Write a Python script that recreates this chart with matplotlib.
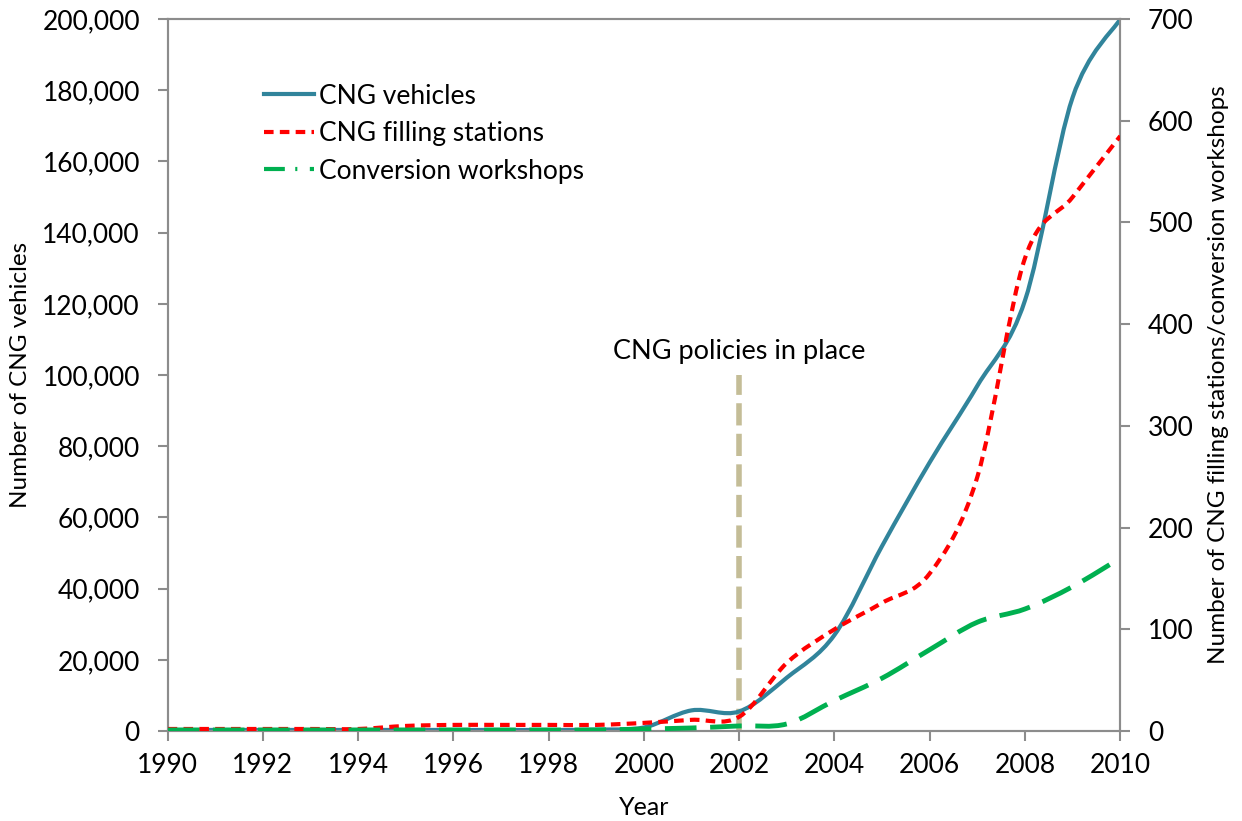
import numpy as np
import matplotlib.pyplot as plt
from matplotlib.path import Path
from matplotlib.patches import PathPatch
from matplotlib.lines import Line2D

plt.rcParams['font.family'] = ['Lato', 'DejaVu Sans']

years = list(range(1990, 2011))
vehicles = [300, 300, 300, 300, 300, 300, 300, 300, 300, 400, 1000, 5800, 5500,
            15000, 27000, 52000, 75500, 97000, 121000, 178000, 200000]
stations = [2, 2, 2, 2, 2, 5, 6, 6, 6, 6, 8, 11, 14,
            67, 100, 126, 155, 250, 465, 525, 585]
workshops = [1, 1, 1, 1, 1, 1, 1, 1, 1, 1, 2, 3, 5,
             7, 30, 52, 80, 107, 120, 142, 170]

policy_year = 2002
x_ticks = list(range(1990, 2011, 2))

BLUE = '#31849B'
RED = '#FF0000'
GREEN = '#00B050'
TAN = '#C4BD97'
GREY = '#8C8C8C'


def smooth_path(x, y):
    # Catmull-Rom style bezier through the points (like Excel's smoothed line)
    x = np.asarray(x, float)
    y = np.asarray(y, float)
    verts = [(x[0], y[0])]
    codes = [Path.MOVETO]
    n = len(x)
    for i in range(n - 1):
        p0 = (x[max(i - 1, 0)], y[max(i - 1, 0)])
        p1 = (x[i], y[i])
        p2 = (x[i + 1], y[i + 1])
        p3 = (x[min(i + 2, n - 1)], y[min(i + 2, n - 1)])
        c1 = (p1[0] + (p2[0] - p0[0]) / 6, p1[1] + (p2[1] - p0[1]) / 6)
        c2 = (p2[0] - (p3[0] - p1[0]) / 6, p2[1] - (p3[1] - p1[1]) / 6)
        verts += [c1, c2, p2]
        codes += [Path.CURVE4] * 3
    return Path(verts, codes)


def draw_smooth(ax, x, y, **kw):
    patch = PathPatch(smooth_path(x, y), facecolor='none', **kw)
    ax.add_patch(patch)
    return patch


fig = plt.figure(figsize=(12.42, 8.21), dpi=100)
ax = fig.add_axes([0.135, 0.1096, 0.767, 0.8672])
ax2 = ax.twinx()

draw_smooth(ax, years, vehicles, edgecolor=BLUE, linewidth=3, capstyle='round', zorder=3)
draw_smooth(ax2, years, stations, edgecolor=RED, linewidth=3, linestyle=(0, (2.3, 1.5)), zorder=3)
draw_smooth(ax2, years, workshops, edgecolor=GREEN, linewidth=3.5,
            linestyle=(0, (6.5, 2.8)), zorder=3)

ax.vlines(policy_year, 0, 100000, colors=TAN, linewidth=4, linestyles=(0, (4, 1.5)), zorder=2)
ax.text(policy_year, 103000, 'CNG policies in place', ha='center', va='bottom', fontsize=19.5)

ax.set_xlim(1990, 2010)
ax.set_ylim(0, 200000)
ax2.set_ylim(0, 700)
ax.set_xticks(x_ticks)
ax.set_yticks(range(0, 200001, 20000))
ax.set_yticklabels([f'{v:,}' for v in range(0, 200001, 20000)])
ax2.set_yticks(range(0, 701, 100))

for a in (ax, ax2):
    for s in a.spines.values():
        s.set_color(GREY)
        s.set_linewidth(1.5)
    a.tick_params(colors=GREY, labelcolor='black', labelsize=19, length=7, width=1.5, direction='out')
ax.tick_params(axis='y', pad=13)
ax.tick_params(axis='x', pad=9)
ax2.tick_params(axis='y', pad=13)

ax.set_xlabel('Year', fontsize=18, labelpad=13)
ax.set_ylabel('Number of CNG vehicles', fontsize=17.5, labelpad=8)
ax2.set_ylabel('Number of CNG filling stations/conversion workshops', fontsize=17.5, labelpad=10)

handles = [
    Line2D([], [], color=BLUE, linewidth=3),
    Line2D([], [], color=RED, linewidth=3, linestyle=(0, (2.3, 1.5))),
    Line2D([], [], color=GREEN, linewidth=3, linestyle=(0, (5, 2.5, 0.5, 3))),
]
ax.legend(handles, ['CNG vehicles', 'CNG filling stations', 'Conversion workshops'],
          loc='upper left', bbox_to_anchor=(0.09, 0.924), frameon=False, fontsize=19,
          handlelength=1.9, handletextpad=0.2, labelspacing=0.47, borderaxespad=0)

fig.savefig('out.png', dpi=100)
